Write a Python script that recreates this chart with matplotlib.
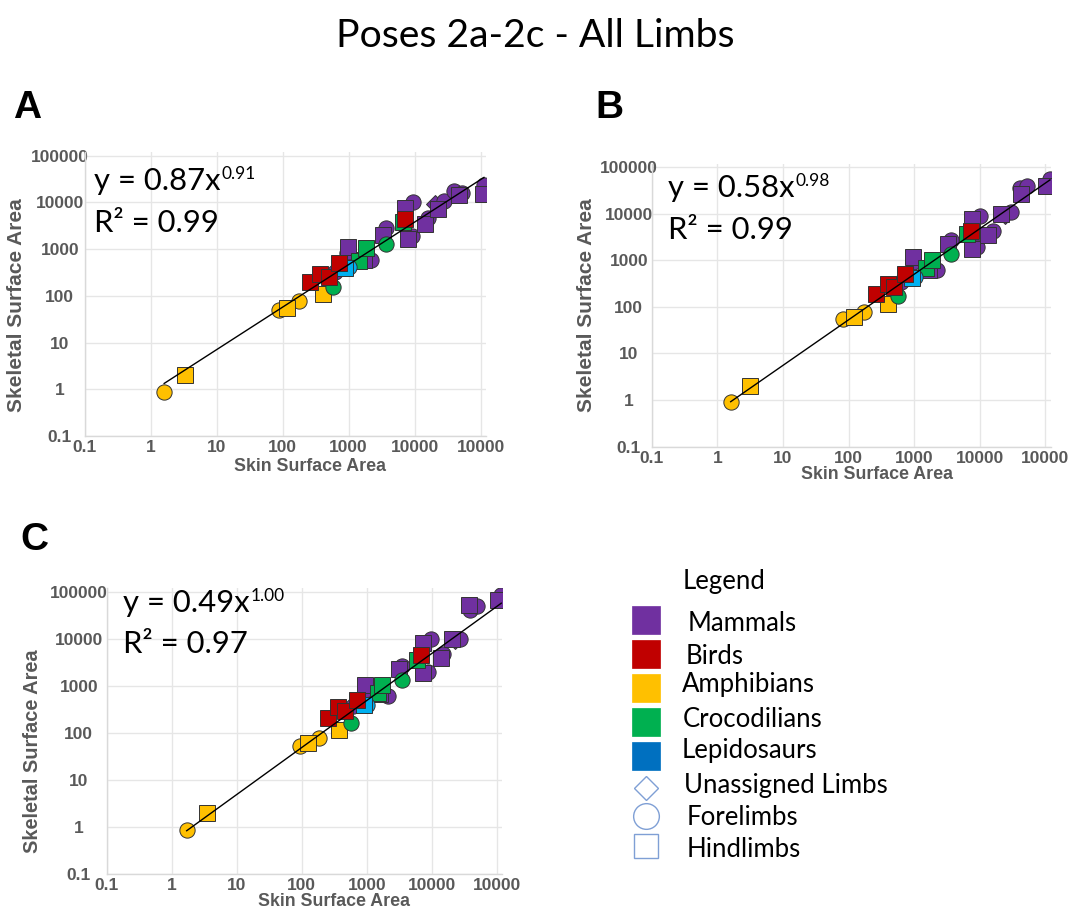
import numpy as np
import matplotlib
matplotlib.use("Agg")
import matplotlib.pyplot as plt
from matplotlib.ticker import NullLocator

# ---------------- data ----------------
TITLE = "Poses 2a-2c - All Limbs"
PANEL_LABELS = ["A", "B", "C"]
TAXA = ["Mammals", "Birds", "Amphibians", "Crocodilians", "Lepidosaurs"]
LIMB_TYPES = ["Unassigned Limbs", "Forelimbs", "Hindlimbs"]

# one entry per specimen limb (same order for all three poses)
taxon = ["Amphibians", "Amphibians", "Amphibians", "Amphibians", "Amphibians", "Amphibians",
         "Crocodilians", "Birds", "Birds", "Birds", "Mammals", "Birds", "Lepidosaurs",
         "Mammals", "Mammals", "Crocodilians", "Crocodilians", "Mammals", "Mammals",
         "Crocodilians", "Mammals", "Mammals", "Crocodilians", "Birds", "Mammals", "Mammals",
         "Mammals", "Mammals", "Mammals", "Mammals", "Mammals", "Mammals", "Mammals",
         "Mammals", "Mammals", "Mammals", "Mammals", "Mammals", "Lepidosaurs"]
limb = ["Forelimbs", "Hindlimbs", "Forelimbs", "Hindlimbs", "Forelimbs", "Hindlimbs",
        "Forelimbs", "Hindlimbs", "Hindlimbs", "Hindlimbs", "Forelimbs", "Hindlimbs", "Forelimbs",
        "Hindlimbs", "Forelimbs", "Hindlimbs", "Hindlimbs", "Hindlimbs", "Forelimbs",
        "Forelimbs", "Hindlimbs", "Forelimbs", "Hindlimbs", "Hindlimbs", "Hindlimbs", "Forelimbs",
        "Hindlimbs", "Forelimbs", "Hindlimbs", "Forelimbs", "Hindlimbs", "Unassigned Limbs", "Forelimbs",
        "Forelimbs", "Hindlimbs", "Forelimbs", "Hindlimbs", "Forelimbs", "Hindlimbs"]

skin_a = [1.6, 3.3, 89, 115, 178, 407, 575, 263, 372, 501, 631, 724, 1000,
          977, 933, 1445, 1820, 1698, 2188, 3631, 3311, 3715, 6607, 7244, 7943, 9120,
          7244, 9550, 14450, 15850, 22390, 20420, 28180, 39810, 46770, 52480, 107200, 112200, 890]
skel_a = [0.87, 2.0, 51, 56, 76, 110, 158, 195, 295, 257, 331, 501, 407,
          1096, 813, 562, 1047, 589, 589, 1288, 2042, 2884, 3890, 4365, 1622, 1950,
          7586, 10000, 3467, 4571, 7244, 9120, 10470, 17380, 14450, 16220, 15490, 23990, 400]

skin_b = [1.6, 3.2, 83, 120, 174, 407, 575, 263, 398, 501, 631, 724, 1047,
          955, 955, 1514, 1905, 1660, 2239, 3631, 3311, 3631, 6457, 7244, 7762, 9120,
          7762, 10000, 13180, 15850, 20890, 23990, 30200, 41690, 42660, 52480, 102300, 117500, 930]
skel_b = [0.91, 2.0, 55, 60, 79, 117, 170, 195, 309, 269, 347, 501, 437,
          1175, 912, 692, 1000, 617, 617, 1380, 2291, 2754, 3715, 4365, 1778, 1950,
          7762, 9120, 3467, 4365, 10000, 9550, 10960, 36310, 27540, 40740, 39810, 56230, 420]

skin_c = [1.7, 3.5, 95, 123, 182, 380, 575, 251, 363, 468, 617, 708, 1000,
          933, 933, 1514, 1738, 1622, 2138, 3548, 3162, 3467, 6026, 6918, 7413, 8710,
          7413, 9772, 13800, 15140, 20420, 22910, 27540, 38900, 38020, 48980, 104700, 117500, 900]
skel_c = [0.87, 2.0, 54, 62, 78, 117, 162, 209, 355, 288, 372, 501, 398,
          1023, 832, 692, 1023, 661, 603, 1349, 2291, 2692, 3631, 4467, 1905, 1950,
          8128, 10000, 3981, 4677, 10000, 9550, 10000, 40740, 53700, 51290, 66070, 87100, 390]

fit_coef = [0.87, 0.58, 0.49]
fit_expo = ["0.91", "0.98", "1.00"]
fit_r2 = ["0.99", "0.99", "0.97"]

tick_values = [0.1, 1, 10, 100, 1000, 10000, 100000]
x_tick_labels = ["0.1", "1", "10", "100", "1000", "10000", "10000"]
y_tick_labels = ["0.1", "1", "10", "100", "1000", "10000", "100000"]

# ---------------- styles ----------------
PLOT_COLORS = {"Mammals": "#7030A0", "Birds": "#C00000", "Amphibians": "#FFC000",
               "Crocodilians": "#00B050", "Lepidosaurs": "#00B0F0"}
LEGEND_COLORS = {"Mammals": "#7030A0", "Birds": "#C00000", "Amphibians": "#FFC000",
                 "Crocodilians": "#00B050", "Lepidosaurs": "#0070C0"}
MARKERS = {"Unassigned Limbs": "D", "Forelimbs": "o", "Hindlimbs": "s"}
MSIZE = {"Unassigned Limbs": 9, "Forelimbs": 11, "Hindlimbs": 11}
DRAW_ORDER = ["Mammals", "Amphibians", "Crocodilians", "Lepidosaurs", "Birds"]
GRAY = "#595959"
SANS = "Liberation Sans"
HUM = "Lato"

W, H = 1080, 910
fig = plt.figure(figsize=(W / 100, H / 100), dpi=100)

LIM = (0.1, 1.2e5)
# (left, right, top, bottom) in figure pixels
axes_px = [(84.7, 485.9, 152.0, 436.0),
           (651.7, 1050.5, 163.8, 446.5),
           (106.7, 501.9, 588.2, 874.0)]
ytick_pad_px = [25, 23, 28]
xlabel_pos = [(0.562, -0.109), (0.564, -0.100), (0.575, -0.097)]
ylabel_pos = [(-0.169, 0.461), (-0.163, 0.500), (-0.187, 0.428)]
ylabel_size = [15, 15, 14.4]
letter_pos = [(13, 118), (595, 118), (20, 550)]
eq_pos = [(94, 190, 232), (667.6, 196.7, 239), (122.8, 611.7, 653)]

datasets = [(skin_a, skel_a), (skin_b, skel_b), (skin_c, skel_c)]

overlay = fig.add_axes([0, 0, 1, 1], zorder=10)
overlay.set_xlim(0, W)
overlay.set_ylim(H, 0)
overlay.axis("off")

eq_texts = []
for i, (ax_px, (skin, skel)) in enumerate(zip(axes_px, datasets)):
    l, r, t, b = ax_px
    ax = fig.add_axes([l / W, 1 - b / H, (r - l) / W, (b - t) / H])
    ax.set_xscale("log")
    ax.set_yscale("log")
    ax.set_xlim(LIM)
    ax.set_ylim(LIM)
    ax.set_xticks(tick_values)
    ax.set_xticklabels(x_tick_labels)
    ax.set_yticks(tick_values)
    ax.set_yticklabels(y_tick_labels)
    ax.xaxis.set_minor_locator(NullLocator())
    ax.yaxis.set_minor_locator(NullLocator())
    ax.grid(True, color="#E6E6E6", lw=1.0)
    ax.set_axisbelow(True)
    for s in ["top", "right"]:
        ax.spines[s].set_visible(False)
    for s in ["left", "bottom"]:
        ax.spines[s].set_color("#D9D9D9")
        ax.spines[s].set_linewidth(1.0)
    ax.tick_params(length=0, labelcolor=GRAY, labelsize=12.5)
    ax.tick_params(axis="x", pad=3.0)
    ax.tick_params(axis="y", pad=ytick_pad_px[i] * 0.72)
    for lab in ax.get_xticklabels() + ax.get_yticklabels():
        lab.set_fontweight("bold")
        lab.set_family(SANS)
    for lab in ax.get_yticklabels():
        lab.set_ha("center")

    ax.set_xlabel("Skin Surface Area", fontsize=12.8, fontweight="bold", color=GRAY, family=SANS)
    ax.set_ylabel("Skeletal Surface Area", fontsize=ylabel_size[i], fontweight="bold", color=GRAY, family=SANS)
    ax.xaxis.label.set_va("center")
    ax.yaxis.label.set_va("center")
    ax.xaxis.set_label_coords(*xlabel_pos[i])
    ax.yaxis.set_label_coords(*ylabel_pos[i])

    skin = np.asarray(skin, float)
    skel = np.asarray(skel, float)
    z = 3
    for tx in DRAW_ORDER:
        for lt in LIMB_TYPES:
            m = np.array([(a == tx and bb == lt) for a, bb in zip(taxon, limb)])
            if m.any():
                ax.plot(skin[m], skel[m], ls="none", marker=MARKERS[lt], ms=MSIZE[lt],
                        mfc=PLOT_COLORS[tx], mec="#333333", mew=0.7, zorder=z)
                z += 0.01
    xs = np.array([skin.min(), skin.max()])
    ax.plot(xs, fit_coef[i] * xs ** float(fit_expo[i]), color="black", lw=1.0, zorder=5)

    # panel letter
    lx, ly = letter_pos[i]
    overlay.text(lx, ly, PANEL_LABELS[i], fontsize=28, fontweight="bold", family=SANS,
                 ha="left", va="baseline", color="black")
    ex, ey1, ey2 = eq_pos[i]
    t1 = overlay.text(ex, ey1, f"y = {fit_coef[i]:.2f}x", fontsize=22.3, family=HUM,
                      ha="left", va="baseline", color="black")
    overlay.text(ex, ey2, f"R\u00b2 = {fit_r2[i]}", fontsize=22.3, family=HUM,
                 ha="left", va="baseline", color="black")
    eq_texts.append((t1, ey1, fit_expo[i]))

# title
overlay.text(535, 47, TITLE, fontsize=28.2, family=HUM, ha="center", va="baseline", color="black")

# exponents placed after main text width is known
fig.canvas.draw()
for t1, ey1, ex_txt in eq_texts:
    bb = t1.get_window_extent()
    overlay.text(bb.x1 + 1, ey1 - 11, ex_txt, fontsize=12.5, family=HUM,
                 ha="left", va="baseline", color="black")

# legend
LEG_FS = 18.5
overlay.text(683, 589, "Legend", fontsize=LEG_FS, family=HUM, ha="left", va="baseline", color="black")
sq_y = [620, 653.7, 688, 721.7, 755.5]
txt_x = [688, 686, 682, 683, 682]
txt_y = [631, 664, 692, 727, 758]
for tx, yy, xx, ty in zip(TAXA, sq_y, txt_x, txt_y):
    overlay.plot([645.5], [yy], marker="s", ms=19.9, mfc=LEGEND_COLORS[tx],
                 mec=LEGEND_COLORS[tx], mew=0.5, ls="none", alpha=1)
    overlay.text(xx, ty, tx, fontsize=LEG_FS, family=HUM, ha="left", va="baseline", color="black")
lim_y = [788.3, 815.8, 846]
lim_ms = [12.5, 18.5, 17.5]
lim_tx = [684, 687, 687]
lim_ty = [793, 825, 857]
for lt, yy, ms, xx, ty in zip(LIMB_TYPES, lim_y, lim_ms, lim_tx, lim_ty):
    overlay.plot([646], [yy], marker=MARKERS[lt], ms=ms, mfc="none", mec="#7F9FD5",
                 mew=1.0, ls="none")
    overlay.text(xx, ty, lt, fontsize=LEG_FS, family=HUM, ha="left", va="baseline", color="black")

fig.savefig("out.png", dpi=100)
